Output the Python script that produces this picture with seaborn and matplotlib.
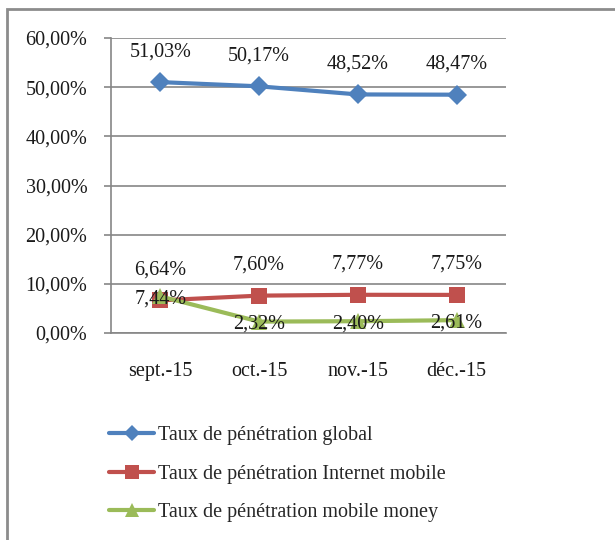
import matplotlib
matplotlib.use("Agg")
import matplotlib.pyplot as plt
import seaborn as sns
import numpy as np
import pandas as pd
from matplotlib.patches import Rectangle
from matplotlib.lines import Line2D

sns.set_theme(style="white")
plt.rcParams['font.family'] = ['Liberation Serif', 'DejaVu Serif']

months = ["sept.-15", "oct.-15", "nov.-15", "déc.-15"]
global_rate = [51.03, 50.17, 48.52, 48.47]
internet_rate = [6.64, 7.60, 7.77, 7.75]
money_rate = [7.44, 2.32, 2.40, 2.61]
series_names = ["Taux de pénétration global",
                "Taux de pénétration Internet mobile",
                "Taux de pénétration mobile money"]
yticks = [0, 10, 20, 30, 40, 50, 60]

def fr(v):
    return f"{v:.2f}".replace(".", ",") + "%"

fig = plt.figure(figsize=(6.15, 5.4), dpi=100)
fig.patches.append(Rectangle((7/615, -0.1), 1.2, 1 - 9/540 + 0.1, transform=fig.transFigure,
                             fill=False, edgecolor="#8c8c8c", linewidth=2.0, zorder=0))
ax = fig.add_axes([111/615, 1 - 333/540, 395/615, 295/540])

pos = np.arange(len(months))
colors = ["#4F81BD", "#C0504D", "#9BBB59"]
markers = ["D", "s", "^"]
msizes = [10, 12, 12]
datas = [global_rate, internet_rate, money_rate]

for d, c, m, ms, name in zip(datas, colors, markers, msizes, series_names):
    df = pd.DataFrame({"x": pos, "y": d})
    sns.lineplot(data=df, x="x", y="y", ax=ax, color=c, marker=m, markersize=ms,
                 linewidth=3, markeredgewidth=0, label=name, legend=False, zorder=3)

fs = 14.5
tc = "#1a1a1a"
for x, v in zip(pos, global_rate):
    ax.annotate(fr(v), (x, v), xytext=(0, 22), textcoords="offset points",
                ha="center", va="center", fontsize=fs, color=tc)
for x, v in zip(pos, internet_rate):
    ax.annotate(fr(v), (x, v), xytext=(0, 22), textcoords="offset points",
                ha="center", va="center", fontsize=fs, color=tc)
for x, v in zip(pos, money_rate):
    ax.annotate(fr(v), (x, v), xytext=(0, -2), textcoords="offset points",
                ha="center", va="center", fontsize=fs, color=tc, zorder=5)

ax.set_xlim(-0.5, len(months) - 0.5)
ax.set_ylim(0, 60)
ax.set_yticks(yticks)
ax.set_yticklabels([fr(t) for t in yticks], fontsize=fs, color=tc)
ax.set_xticks(pos)
ax.set_xticklabels(months, fontsize=fs, color=tc)
ax.set_xticks(np.arange(-0.5, len(months)), minor=True)
ax.tick_params(axis="x", which="major", length=0, pad=21)
ax.tick_params(axis="x", which="minor", length=5, width=1.2, color="#868686", direction="out")
ax.tick_params(axis="y", length=5, width=1.2, color="#868686", direction="out", pad=12, left=True)
ax.set_xlabel("")
ax.set_ylabel("")
ax.yaxis.grid(True, color="#868686", linewidth=1.2)
ax.set_axisbelow(True)
for s in ["top", "right"]:
    ax.spines[s].set_visible(False)
for s in ["left", "bottom"]:
    ax.spines[s].set_color("#868686")
    ax.spines[s].set_linewidth(1.2)

handles = [Line2D([], [], color=c, marker=m, markersize=ms * 0.8, linewidth=3, markeredgewidth=0)
           for c, m, ms in zip(colors, markers, msizes)]
fig.legend(handles, series_names, loc="upper left", bbox_to_anchor=(91/615, 1 - 408/540),
           frameon=False, fontsize=fs, handlelength=2.25, handletextpad=0.2, labelspacing=0.97)

fig.savefig("out.png", dpi=100)
